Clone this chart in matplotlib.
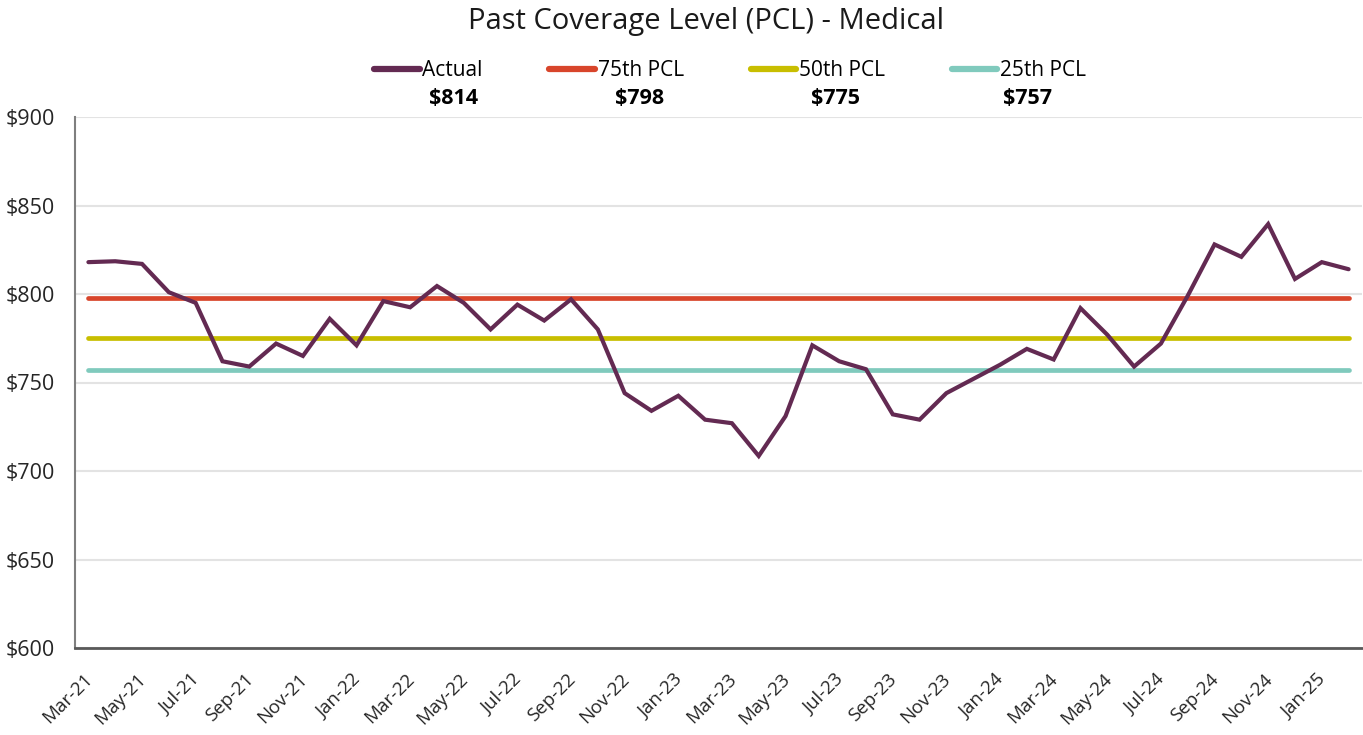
import numpy as np
import matplotlib.pyplot as plt
import matplotlib.transforms as mtransforms

plt.rcParams['font.family'] = ['Open Sans', 'DejaVu Sans']

# Data
bulan = ['Mar-21', 'Apr-21', 'May-21', 'Jun-21', 'Jul-21', 'Aug-21', 'Sep-21', 'Oct-21',
         'Nov-21', 'Dec-21', 'Jan-22', 'Feb-22', 'Mar-22', 'Apr-22', 'May-22', 'Jun-22',
         'Jul-22', 'Aug-22', 'Sep-22', 'Oct-22', 'Nov-22', 'Dec-22', 'Jan-23', 'Feb-23',
         'Mar-23', 'Apr-23', 'May-23', 'Jun-23', 'Jul-23', 'Aug-23', 'Sep-23', 'Oct-23',
         'Nov-23', 'Dec-23', 'Jan-24', 'Feb-24', 'Mar-24', 'Apr-24', 'May-24', 'Jun-24',
         'Jul-24', 'Aug-24', 'Sep-24', 'Oct-24', 'Nov-24', 'Dec-24', 'Jan-25', 'Feb-25']
actual = [818, 818.5, 817, 801, 795, 762, 759, 772, 765, 786, 771, 796, 792.5, 804.5,
          795, 780, 794, 785, 797, 780, 744, 734, 742.5, 729, 727, 708.5, 731, 771,
          762, 757.5, 732, 729, 744, 752, 760, 769, 763, 792, 777, 759, 772, 799,
          828, 821, 839.5, 808.5, 818, 814]
pcl_75 = 798
pcl_50 = 775
pcl_25 = 757

warna_actual = '#632A52'
warna_75 = '#D8452B'
warna_50 = '#C8BE00'
warna_25 = '#80CABD'

fig = plt.figure(figsize=(13.63, 7.35), dpi=100)
ax = fig.add_axes([75 / 1363, 1 - 648 / 735, 1287 / 1363, 531 / 735])

x = np.arange(len(bulan))
ax.plot(x, [pcl_75] * len(x), color=warna_75, lw=3.4, solid_capstyle='round', label='75th PCL', zorder=3)
ax.plot(x, [pcl_50] * len(x), color=warna_50, lw=3.4, solid_capstyle='round', label='50th PCL', zorder=3)
ax.plot(x, [pcl_25] * len(x), color=warna_25, lw=3.4, solid_capstyle='round', label='25th PCL', zorder=3)
ax.plot(x, actual, color=warna_actual, lw=3, solid_capstyle='round', solid_joinstyle='miter',
        label='Actual', zorder=4)

ax.set_xlim(-0.5, len(bulan) - 0.5)
ax.set_ylim(600, 900)
ax.set_yticks(np.arange(600, 901, 50))
ax.set_yticklabels(['$' + str(v) for v in range(600, 901, 50)], fontsize=15.5, color='#262626')
ax.set_xticks(x[::2])
ax.set_xticklabels(bulan[::2], rotation=45, ha='right', rotation_mode='anchor', fontsize=13.5,
                   color='#262626')
ax.tick_params(axis='x', length=0, pad=16)
ax.tick_params(axis='y', length=0, pad=14.5)
# geser label bulan sedikit ke kiri
geser = mtransforms.ScaledTranslation(-5 / 100, 0, fig.dpi_scale_trans)
for lbl in ax.get_xticklabels():
    lbl.set_transform(lbl.get_transform() + geser)
ax.grid(axis='y', color='#e3e3e3', lw=1.5, zorder=0)
for s in ['top', 'right']:
    ax.spines[s].set_visible(False)
ax.spines['left'].set_color('#7f7f7f')
ax.spines['left'].set_linewidth(1.5)
ax.spines['bottom'].set_color('#595959')
ax.spines['bottom'].set_linewidth(2)

fig.text(706 / 1363, 1 - 22 / 735, 'Past Coverage Level (PCL) - Medical', ha='center', va='center',
         fontsize=21, color='#1a1a1a')

# Legend
handles, labels = ax.get_legend_handles_labels()
urutan = [3, 0, 1, 2]
leg = fig.legend([handles[i] for i in urutan], [labels[i] for i in urutan], ncol=4,
                 loc='center', bbox_to_anchor=(730 / 1363, 1 - 71 / 735), frameon=False,
                 fontsize=15, handlelength=2.2, handletextpad=0.12, columnspacing=3.2)
for garis in leg.get_lines():
    garis.set_linewidth(4.5)
    garis.set_solid_capstyle('round')

# Nilai terakhir di bawah legend
nilai = ['$814', '$798', '$775', '$757']
posisi_x = [454, 640, 836, 1027]
for px, v in zip(posisi_x, nilai):
    fig.text(px / 1363, 1 - 99 / 735, v, ha='center', va='center', fontsize=15.5, fontweight='bold',
             color='black')

fig.savefig('out.png', dpi=100)
